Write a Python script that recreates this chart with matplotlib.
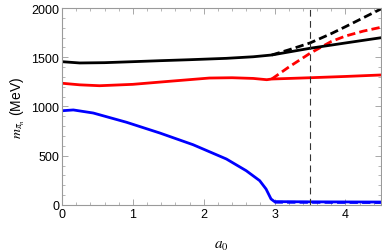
import numpy as np
import matplotlib
matplotlib.use("Agg")
import matplotlib.pyplot as plt
from matplotlib.ticker import MultipleLocator

# Data
blue_x = [0.0, 0.02, 0.16, 0.44, 0.91, 1.38, 1.85, 2.32, 2.60, 2.79, 2.88, 2.95, 3.0, 3.5, 4.0, 4.5]
blue_y = [955, 958, 965, 934, 840, 731, 612, 467, 348, 247, 162, 61, 34, 32, 31, 30]
blue_dash_x = [3.0, 3.5, 4.0, 4.5]
blue_dash_y = [28, 27, 26, 25]

red_x = [0.0, 0.25, 0.53, 1.0, 1.5, 2.08, 2.4, 2.7, 2.89, 2.96, 3.5, 4.0, 4.5]
red_y = [1236, 1220, 1211, 1225, 1255, 1289, 1292, 1285, 1272, 1279, 1292, 1305, 1320]
red_dash_x = [2.96, 3.2, 3.5, 3.7, 3.8, 4.0, 4.25, 4.5]
red_dash_y = [1279, 1400, 1540, 1620, 1660, 1715, 1765, 1804]

black_x = [0.0, 0.25, 0.6, 1.0, 1.38, 1.8, 2.32, 2.7, 2.96, 3.5, 4.0, 4.5]
black_y = [1455, 1442, 1445, 1455, 1465, 1475, 1489, 1505, 1523, 1591, 1645, 1698]
black_dash_x = [2.96, 3.2, 3.5, 3.8, 4.0, 4.25, 4.5]
black_dash_y = [1523, 1575, 1645, 1740, 1810, 1900, 1990]

vline_x = 3.5

plt.rcParams['font.family'] = ['Liberation Sans', 'DejaVu Sans']
plt.rcParams['mathtext.fontset'] = 'stix'
fig = plt.figure(figsize=(3.82, 2.53), dpi=100)
ax = fig.add_axes([0.1623, 0.1858, 0.8347, 0.7786])

lw = 2.0
ax.plot(blue_x, blue_y, color='#0000ff', lw=lw, solid_joinstyle='round')
ax.plot(blue_dash_x, blue_dash_y, color='#0000ff', lw=lw, ls=(0, (3, 1.5)))
ax.plot(red_x, red_y, color='#ff0000', lw=lw, solid_joinstyle='round')
ax.plot(red_dash_x, red_dash_y, color='#ff0000', lw=lw, ls=(0, (3, 1.5)))
ax.plot(black_x, black_y, color='black', lw=lw, solid_joinstyle='round')
ax.plot(black_dash_x, black_dash_y, color='black', lw=lw, ls=(0, (3, 1.5)))
ax.axvline(vline_x, color='#333333', lw=0.8, ls=(0, (6, 4)))

ax.set_xlim(0, 4.5)
ax.set_ylim(0, 2000)
ax.xaxis.set_major_locator(MultipleLocator(1))
ax.xaxis.set_minor_locator(MultipleLocator(0.2))
ax.yaxis.set_major_locator(MultipleLocator(500))
ax.yaxis.set_minor_locator(MultipleLocator(100))
for s in ax.spines.values():
    s.set_color('#9a9a9a')
    s.set_linewidth(0.8)
ax.tick_params(which='both', direction='in', color='#9a9a9a', top=True, right=True,
               labeltop=False, labelright=False, labelsize=9, pad=2)
ax.tick_params(which='major', length=4, width=0.6)
ax.tick_params(which='minor', length=2, width=0.5)

ax.set_xlabel(r'$a_0$', fontsize=11, labelpad=13)
ax.set_ylabel(r'$m_{\pi_n}$ (MeV)', fontsize=10, labelpad=3)
fig.savefig('out.png', dpi=100)
